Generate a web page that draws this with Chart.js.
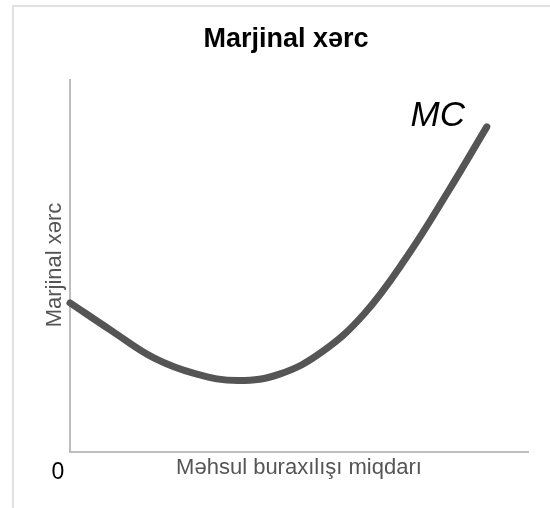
<!DOCTYPE html>
<html>
<head>
<meta charset="utf-8">
<script src="https://cdn.jsdelivr.net/npm/chart.js@4/dist/chart.umd.min.js"></script>
<style>
  html, body { margin: 0; padding: 0; background: #fff; }
  #wrap { position: relative; width: 550px; height: 508px; }
  #frame { position: absolute; left: 12px; top: 5px; right: 0; bottom: 0;
           border-top: 2px solid #e0e0e0; border-left: 2px solid #e0e0e0; }
  canvas { position: absolute; left: 0; top: 0; }
</style>
</head>
<body>
<div id="wrap">
  <div id="frame"></div>
  <canvas id="mcChart" width="550" height="508"></canvas>
</div>
<script>
// output quantity (arbitrary units) and marginal cost
const quantity = [0, 0.92, 1.83, 2.75, 3.67, 4.59, 5.50, 6.42, 7.34, 8.25, 9.10];
const marginalCost = [4.01, 3.25, 2.53, 2.10, 1.92, 2.10, 2.69, 3.71, 5.22, 6.99, 8.74];

const titleText = "Marjinal xərc";
const xTitle = "Məhsul buraxılışı miqdarı";
const yTitle = "Marjinal xərc";
const curveLabel = "MC";
const originLabel = "0";

const points = quantity.map((q, i) => ({ x: q, y: marginalCost[i] }));

const textPlugin = {
  id: "texts",
  afterDraw(chart) {
    const { ctx, chartArea, scales } = chart;
    ctx.save();
    ctx.textAlign = "center";
    ctx.textBaseline = "middle";

    ctx.fillStyle = "#000";
    ctx.font = "bold 27px 'Liberation Sans', Arial, sans-serif";
    ctx.fillText(titleText, 286, 40);

    ctx.fillStyle = "#555";
    ctx.font = "22px 'Liberation Sans', Arial, sans-serif";
    ctx.fillText(xTitle, 299, 468);

    ctx.save();
    ctx.translate(55, 265);
    ctx.rotate(-Math.PI / 2);
    ctx.fillText(yTitle, 0, 0);
    ctx.restore();

    ctx.fillStyle = "#000";
    ctx.font = "23px 'Liberation Sans', Arial, sans-serif";
    ctx.fillText(originLabel, chartArea.left - 12, chartArea.bottom + 21);

    const last = points[points.length - 1];
    ctx.font = "italic 35px 'Liberation Sans', Arial, sans-serif";
    ctx.fillText(curveLabel, scales.x.getPixelForValue(last.x) - 49,
                 scales.y.getPixelForValue(last.y) - 11);
    ctx.restore();
  }
};

new Chart(document.getElementById("mcChart"), {
  type: "line",
  data: {
    datasets: [{
      data: points,
      borderColor: "#555555",
      borderWidth: 7,
      borderCapStyle: "round",
      borderJoinStyle: "round",
      pointRadius: 0,
      tension: 0.4,
      fill: false,
      clip: 10
    }]
  },
  options: {
    responsive: false,
    animation: false,
    layout: { padding: { left: 70, right: 22, top: 80, bottom: 56 } },
    plugins: { legend: { display: false }, tooltip: { enabled: false }, title: { display: false } },
    scales: {
      x: {
        type: "linear", min: 0, max: 10,
        ticks: { display: false },
        grid: { display: false, drawTicks: false },
        border: { display: true, color: "#bdbdbd", width: 2 }
      },
      y: {
        min: 0, max: 10,
        ticks: { display: false },
        grid: { display: false, drawTicks: false },
        border: { display: true, color: "#bdbdbd", width: 2 }
      }
    }
  },
  plugins: [textPlugin]
});
</script>
</body>
</html>
